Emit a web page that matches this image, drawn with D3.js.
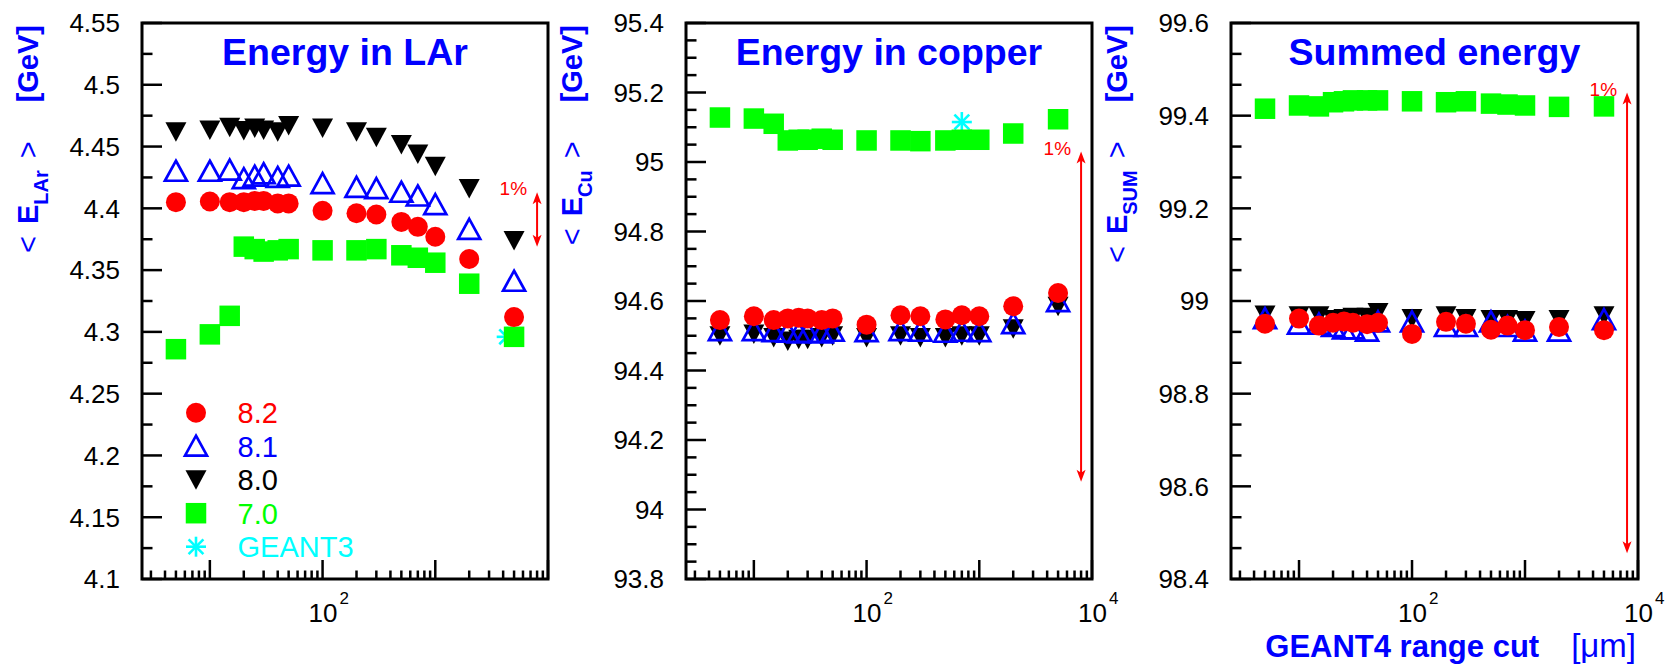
<!DOCTYPE html>
<html>
<head>
<meta charset="utf-8">
<script src="https://cdn.jsdelivr.net/npm/d3@7"></script>
<style>
  html, body { margin: 0; padding: 0; background: #fff; }
  svg { display: block; font-family: "Liberation Sans", Arial, Helvetica, sans-serif; }
</style>
</head>
<body>
<svg id="chart" width="1671" height="664"></svg>
<script>
// GEANT4 production range cuts [um] common to all GEANT4 versions
const rangeCuts = [5, 10, 15, 20, 25, 30, 40, 50, 100, 200, 300, 500, 700, 1000, 2000, 5000];

// Legend entries
const versionNames = ["8.2", "8.1", "8.0", "7.0", "GEANT3"];

// <E_LAr> [GeV]
const larV82 = [4.405, 4.4055, 4.405, 4.405, 4.406, 4.406, 4.404, 4.404, 4.398, 4.396, 4.395, 4.389, 4.385, 4.377, 4.359, 4.312];
const larV81 = [4.430, 4.430, 4.431, 4.424, 4.426, 4.428, 4.425, 4.426, 4.420, 4.417, 4.416, 4.413, 4.410, 4.403, 4.383, 4.341];
const larV80 = [4.462, 4.4635, 4.4657, 4.463, 4.465, 4.4635, 4.462, 4.467, 4.465, 4.462, 4.4576, 4.4517, 4.444, 4.434, 4.416, 4.374];
const larV70 = [4.286, 4.298, 4.313, 4.369, 4.367, 4.365, 4.366, 4.367, 4.366, 4.366, 4.367, 4.362, 4.360, 4.356, 4.339, 4.296];
const larG3Cut = [4300];
const larG3 = [4.296];

// <E_Cu> [GeV]
const cuV82 = [94.545, 94.556, 94.545, 94.550, 94.552, 94.550, 94.545, 94.550, 94.532, 94.559, 94.556, 94.547, 94.559, 94.556, 94.585, 94.623];
const cuV81 = [94.515, 94.515, 94.512, 94.510, 94.508, 94.510, 94.508, 94.513, 94.512, 94.515, 94.513, 94.510, 94.513, 94.512, 94.535, 94.598];
const cuV80 = [94.500, 94.505, 94.495, 94.485, 94.490, 94.490, 94.495, 94.500, 94.495, 94.500, 94.495, 94.495, 94.500, 94.500, 94.520, 94.585];
const cuV70 = [95.128, 95.125, 95.110, 95.062, 95.064, 95.064, 95.067, 95.064, 95.062, 95.062, 95.060, 95.062, 95.064, 95.064, 95.082, 95.123];
const cuG3Cut = [700];
const cuG3 = [95.115];

// <E_SUM> [GeV]
const sumV82 = [98.951, 98.962, 98.947, 98.953, 98.956, 98.953, 98.950, 98.953, 98.929, 98.955, 98.951, 98.938, 98.947, 98.937, 98.944, 98.937];
const sumV81 = [98.962, 98.950, 98.950, 98.945, 98.940, 98.940, 98.935, 98.955, 98.955, 98.945, 98.945, 98.955, 98.945, 98.935, 98.935, 98.960];
const sumV80 = [98.970, 98.968, 98.968, 98.960, 98.962, 98.965, 98.965, 98.975, 98.962, 98.968, 98.962, 98.960, 98.960, 98.958, 98.960, 98.968];
const sumV70 = [99.415, 99.422, 99.420, 99.429, 99.431, 99.433, 99.433, 99.433, 99.431, 99.429, 99.431, 99.426, 99.424, 99.422, 99.419, 99.420];
const sumG3Cut = [];
const sumG3 = [];

// Axis ticks
const xDomain = [2.5, 10000];
const larTicks = [4.1, 4.15, 4.2, 4.25, 4.3, 4.35, 4.4, 4.45, 4.5, 4.55];
const cuTicks = [93.8, 94, 94.2, 94.4, 94.6, 94.8, 95, 95.2, 95.4];
const sumTicks = [98.4, 98.6, 98.8, 99, 99.2, 99.4, 99.6];
const larXLabels = [100];
const cuXLabels = [100, 10000];
const sumXLabels = [100, 10000];

// 1% scale arrows: cut position and upper end value
const onePercent = 0.01;
const arrowCut = [8000, 8000, 8000];
const arrowTop = [4.413, 95.03, 99.45];

const colors = { v82: "#ff0000", v81: "#0000ff", v80: "#000000", v70: "#00ff00", g3: "#00ffff" };

const svg = d3.select("#chart");

const panels = [
  { frame: { l: 142, r: 548, t: 23, b: 579 }, ticks: larTicks, minorDiv: 2, xLabels: larXLabels,
    title: "Energy in LAr", ySub: "LAr", v82: larV82, v81: larV81, v80: larV80, v70: larV70,
    g3Cut: larG3Cut, g3: larG3 },
  { frame: { l: 686, r: 1092, t: 23, b: 579 }, ticks: cuTicks, minorDiv: 4, xLabels: cuXLabels,
    title: "Energy in copper", ySub: "Cu", v82: cuV82, v81: cuV81, v80: cuV80, v70: cuV70,
    g3Cut: cuG3Cut, g3: cuG3 },
  { frame: { l: 1231, r: 1638, t: 23, b: 579 }, ticks: sumTicks, minorDiv: 3, xLabels: sumXLabels,
    title: "Summed energy", ySub: "SUM", v82: sumV82, v81: sumV81, v80: sumV80, v70: sumV70,
    g3Cut: sumG3Cut, g3: sumG3 }
];

// Marker shapes
function drawCircle(g, x, y) {
  g.append("circle").attr("cx", x).attr("cy", y).attr("r", 10).attr("fill", colors.v82);
}
function drawOpenTriangle(g, x, y) {
  g.append("path").attr("transform", `translate(${x},${y})`)
    .attr("d", "M0,-10.5 L11,9.5 L-11,9.5 Z")
    .attr("fill", "none").attr("stroke", colors.v81).attr("stroke-width", 2.7)
    .attr("stroke-linejoin", "miter");
}
function drawDownTriangle(g, x, y) {
  g.append("path").attr("transform", `translate(${x},${y})`)
    .attr("d", "M-10.5,-9.5 L10.5,-9.5 L0,10 Z").attr("fill", colors.v80);
}
function drawSquare(g, x, y) {
  g.append("rect").attr("x", x - 10.25).attr("y", y - 10.25)
    .attr("width", 20.5).attr("height", 20.5).attr("fill", colors.v70);
}
function drawStar(g, x, y) {
  const s = g.append("g").attr("transform", `translate(${x},${y})`)
    .attr("stroke", colors.g3).attr("stroke-width", 2.6);
  const a = 10, d = 7.4;
  s.append("line").attr("x1", 0).attr("y1", -a).attr("x2", 0).attr("y2", a);
  s.append("line").attr("x1", -a).attr("y1", 0).attr("x2", a).attr("y2", 0);
  s.append("line").attr("x1", -d).attr("y1", -d).attr("x2", d).attr("y2", d);
  s.append("line").attr("x1", -d).attr("y1", d).attr("x2", d).attr("y2", -d);
}

panels.forEach((p, i) => {
  const f = p.frame;
  const x = d3.scaleLog().domain(xDomain).range([f.l, f.r]);
  const y = d3.scaleLinear().domain([p.ticks[0], p.ticks[p.ticks.length - 1]]).range([f.b, f.t]);
  const g = svg.append("g");

  // y ticks (major + minor), pointing inward
  const step = p.ticks[1] - p.ticks[0];
  const minor = [];
  p.ticks.slice(0, -1).forEach(t => {
    for (let k = 1; k < p.minorDiv; k++) minor.push(t + step * k / p.minorDiv);
  });
  g.selectAll(null).data(p.ticks).enter().append("line")
    .attr("x1", f.l).attr("x2", f.l + 20)
    .attr("y1", d => y(d)).attr("y2", d => y(d))
    .attr("stroke", "#000").attr("stroke-width", 2.5);
  g.selectAll(null).data(minor).enter().append("line")
    .attr("x1", f.l).attr("x2", f.l + 10.5)
    .attr("y1", d => y(d)).attr("y2", d => y(d))
    .attr("stroke", "#000").attr("stroke-width", 2.5);
  g.selectAll(null).data(p.ticks).enter().append("text")
    .attr("x", f.l - 22).attr("y", d => y(d) + 9.3)
    .attr("text-anchor", "end").attr("font-size", 26).attr("fill", "#000")
    .text(d => String(+d.toFixed(2)));

  // x ticks on the log axis
  const decades = [1, 10, 100, 1000, 10000].filter(v => v >= xDomain[0] && v <= xDomain[1]);
  const xMinor = [];
  [1, 10, 100, 1000].forEach(dec => {
    for (let k = 2; k <= 9; k++) {
      const v = dec * k;
      if (v >= xDomain[0] && v <= xDomain[1]) xMinor.push(v);
    }
  });
  g.selectAll(null).data(decades).enter().append("line")
    .attr("x1", d => x(d)).attr("x2", d => x(d))
    .attr("y1", f.b).attr("y2", f.b - 19)
    .attr("stroke", "#000").attr("stroke-width", 2.5);
  g.selectAll(null).data(xMinor).enter().append("line")
    .attr("x1", d => x(d)).attr("x2", d => x(d))
    .attr("y1", f.b).attr("y2", f.b - 8.5)
    .attr("stroke", "#000").attr("stroke-width", 2.5);
  const xl = g.selectAll(null).data(p.xLabels).enter().append("text")
    .attr("x", d => x(d) - 14).attr("y", 622)
    .attr("font-size", 26).attr("fill", "#000");
  xl.append("tspan").text("10");
  xl.append("tspan").attr("dy", -18).attr("dx", 2).attr("font-size", 17)
    .text(d => String(Math.round(Math.log10(d))));

  // frame
  g.append("rect").attr("x", f.l).attr("y", f.t).attr("width", f.r - f.l).attr("height", f.b - f.t)
    .attr("fill", "none").attr("stroke", "#000").attr("stroke-width", 3);

  // title
  g.append("text").attr("x", (f.l + f.r) / 2).attr("y", 65).attr("text-anchor", "middle")
    .attr("font-size", 37.5).attr("font-weight", "bold").attr("fill", "#0000ff").text(p.title);

  // y axis title
  const yt = g.append("text").attr("transform", `translate(${f.l - 104},25) rotate(-90)`)
    .attr("text-anchor", "end").attr("font-size", 29).attr("fill", "#0000ff");
  yt.append("tspan").text("<");
  yt.append("tspan").attr("dx", 12).attr("font-weight", "bold").text("E");
  yt.append("tspan").attr("font-size", 20).attr("font-weight", "bold").attr("dy", 10).text(p.ySub);
  yt.append("tspan").attr("dy", -10).attr("dx", 12).text(">");
  yt.append("tspan").attr("dx", 39).attr("font-weight", "bold").text("[GeV]");

  // data markers, drawn back to front
  const mg = g.append("g");
  p.g3.forEach((v, j) => drawStar(mg, x(p.g3Cut[j]), y(v)));
  p.v70.forEach((v, j) => drawSquare(mg, x(rangeCuts[j]), y(v)));
  p.v80.forEach((v, j) => drawDownTriangle(mg, x(rangeCuts[j]), y(v)));
  p.v81.forEach((v, j) => drawOpenTriangle(mg, x(rangeCuts[j]), y(v)));
  p.v82.forEach((v, j) => drawCircle(mg, x(rangeCuts[j]), y(v)));

  // 1% double-headed arrow
  const ax = x(arrowCut[i]);
  const yTop = y(arrowTop[i]);
  const yBot = y(arrowTop[i] * (1 - onePercent));
  const ag = g.append("g").attr("fill", "#ff0000").attr("stroke", "#ff0000");
  ag.append("line").attr("x1", ax).attr("x2", ax).attr("y1", yTop + 4).attr("y2", yBot - 4).attr("stroke-width", 2);
  ag.append("path").attr("stroke", "none")
    .attr("d", `M${ax},${yTop} L${ax + 4.5},${yTop + 12} L${ax},${yTop + 9} L${ax - 4.5},${yTop + 12} Z`);
  ag.append("path").attr("stroke", "none")
    .attr("d", `M${ax},${yBot} L${ax + 4.5},${yBot - 12} L${ax},${yBot - 9} L${ax - 4.5},${yBot - 12} Z`);
  g.append("text").attr("x", ax - 10).attr("y", yTop + 3).attr("text-anchor", "end")
    .attr("font-size", 19).attr("fill", "#ff0000").text("1%");
});

// legend inside the first panel
const legend = svg.append("g");
const legendDraw = [drawCircle, drawOpenTriangle, drawDownTriangle, drawSquare, drawStar];
const legendColors = [colors.v82, colors.v81, colors.v80, colors.v70, colors.g3];
versionNames.forEach((name, k) => {
  const cy = 412.7 + 33.5 * k;
  legendDraw[k](legend, 196, cy);
  legend.append("text").attr("x", 237.5).attr("y", cy + 10.5)
    .attr("font-size", 29).attr("fill", legendColors[k]).text(name);
});

// x axis title
const xt = svg.append("text").attr("x", 1636).attr("y", 657).attr("text-anchor", "end")
  .attr("fill", "#0000ff");
xt.append("tspan").attr("font-weight", "bold").attr("font-size", 31).text("GEANT4 range cut");
xt.append("tspan").attr("dx", 32).attr("font-size", 33).text("[\u03bcm]");
</script>
</body>
</html>
